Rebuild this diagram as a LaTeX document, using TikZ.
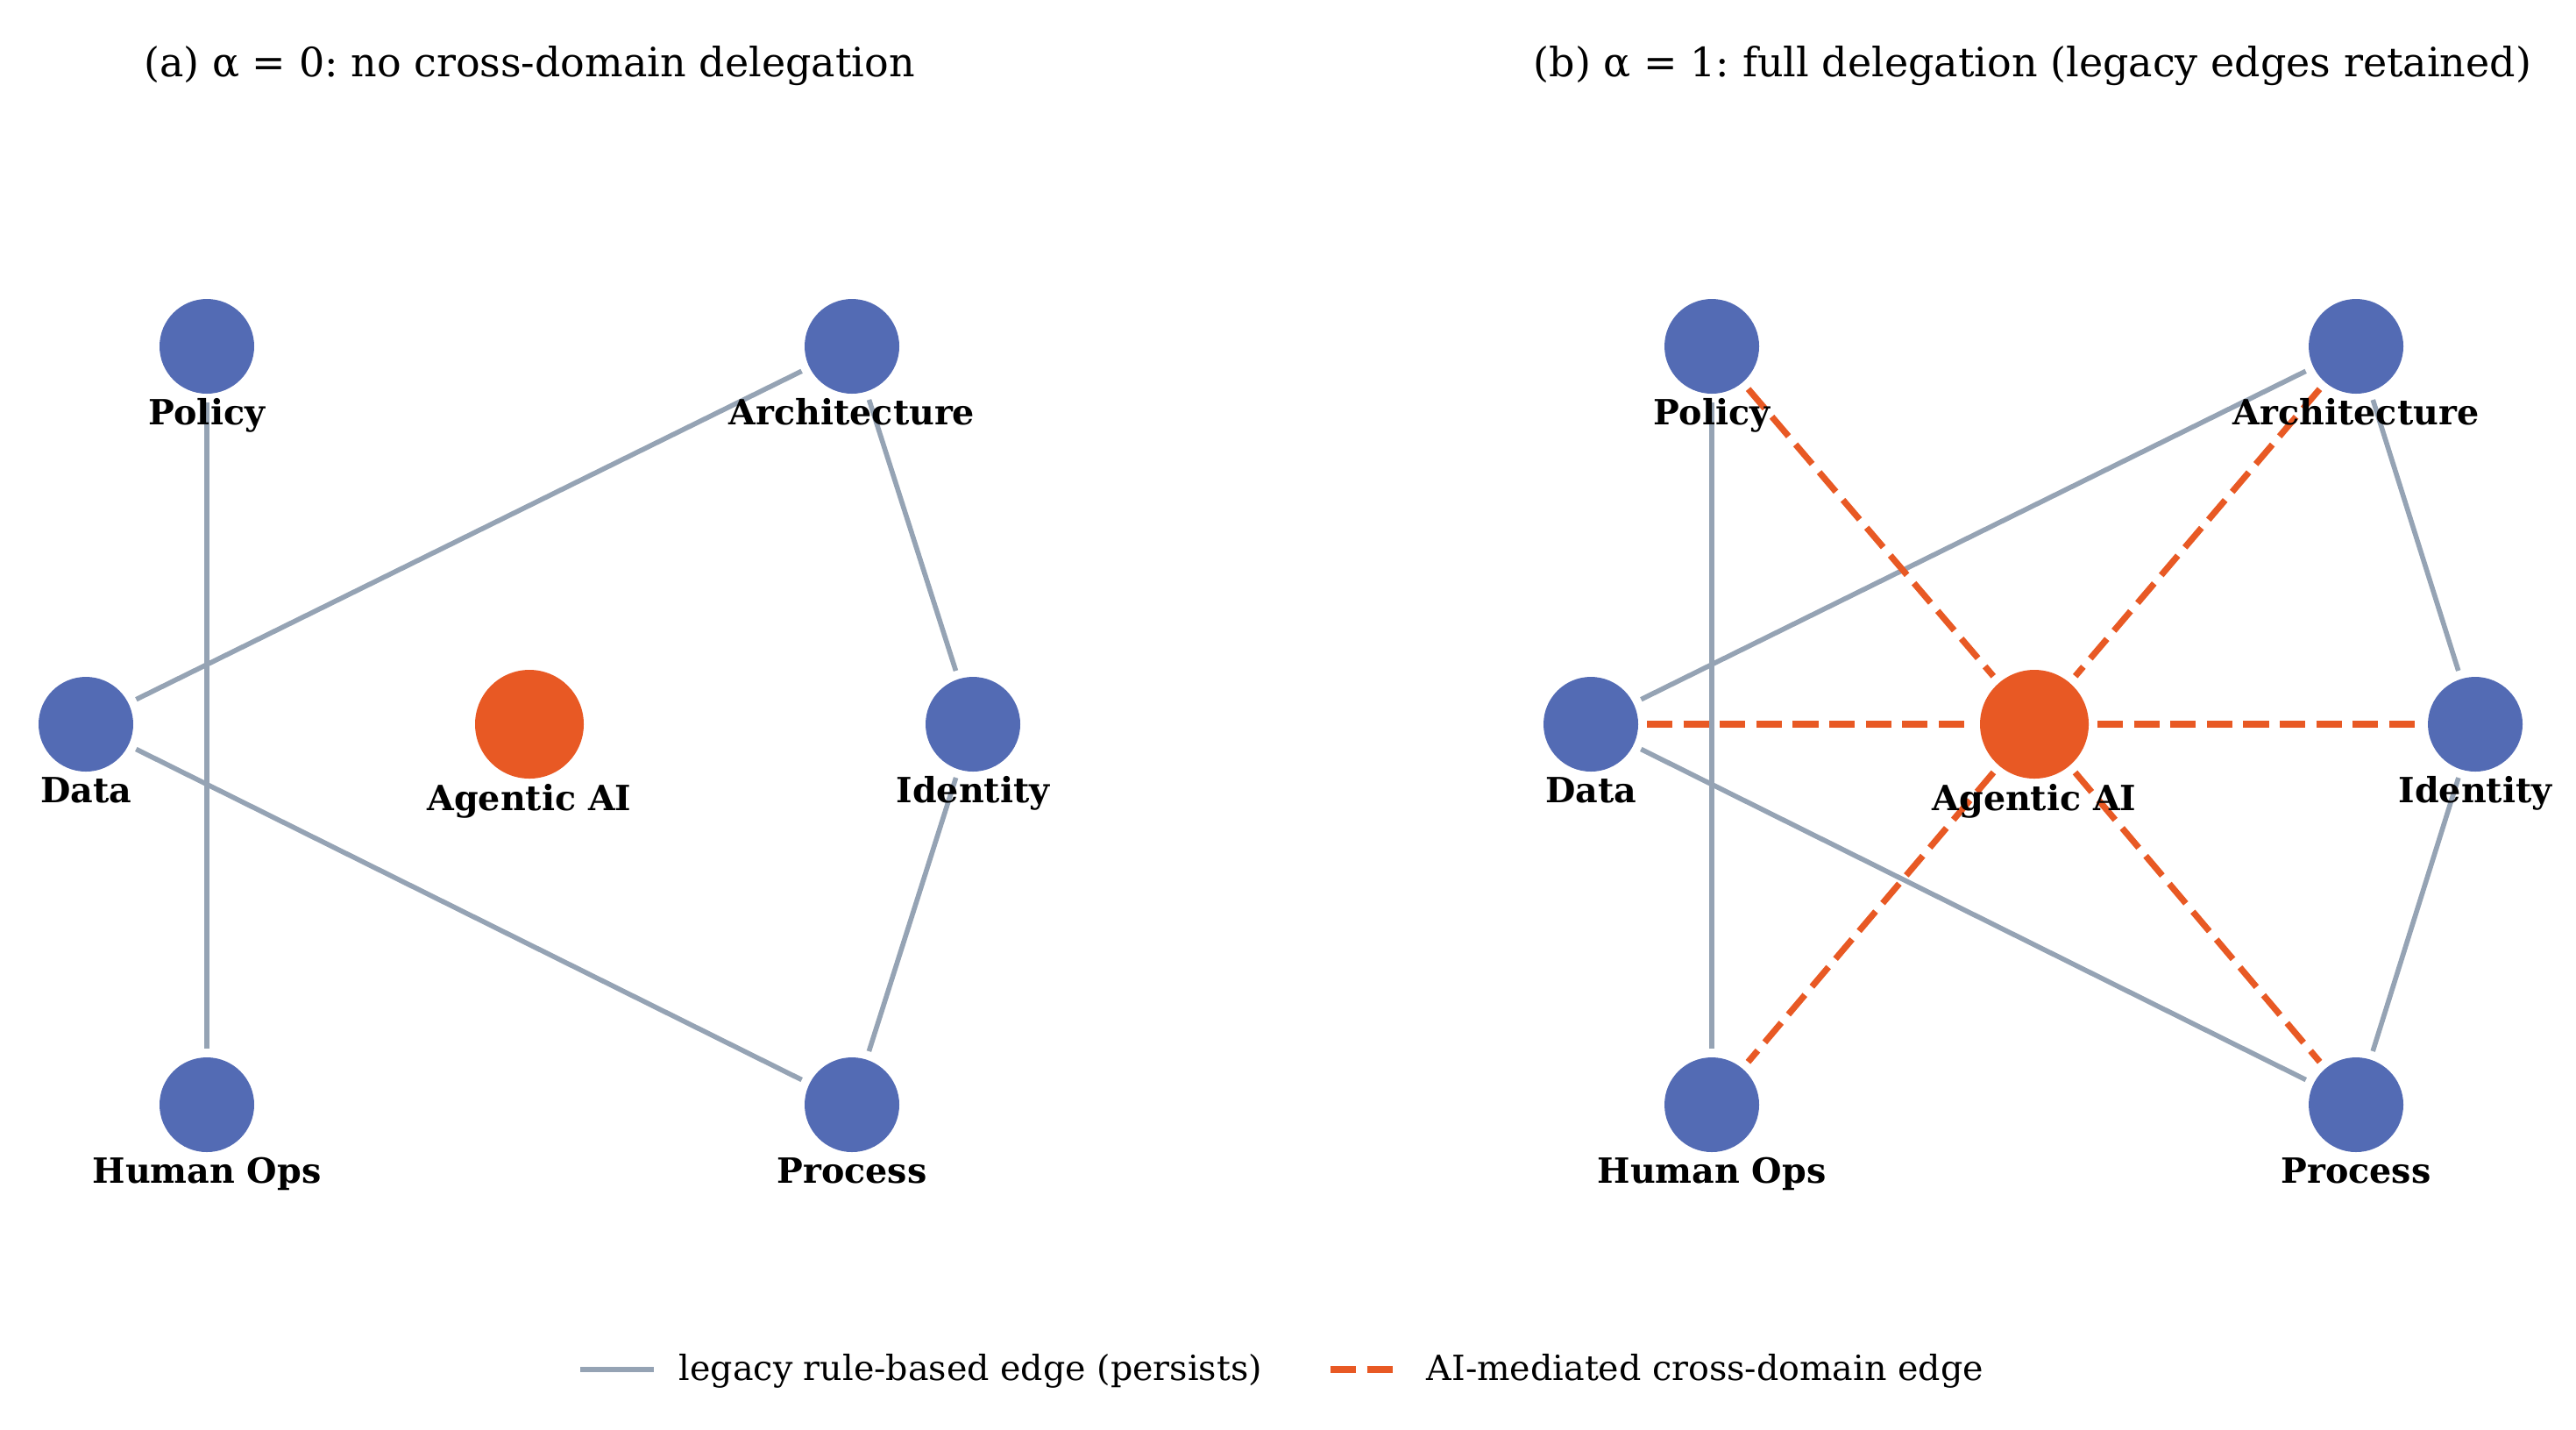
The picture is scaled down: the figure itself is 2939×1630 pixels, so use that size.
\documentclass[tikz,border=0pt]{standalone}
\usepackage{fontspec}
\setmainfont{DejaVu Serif}
\frenchspacing
\definecolor{nblue}{HTML}{536BB4}
\definecolor{norange}{HTML}{E85924}
\definecolor{lgray}{HTML}{95A3B4}
\begin{document}
\begin{tikzpicture}[x={(0.25pt,0)}, y={(0,-0.25pt)},
  dom/.style={circle, fill=nblue, inner sep=0pt, minimum size=27pt, outer sep=2.5pt},
  aihub/.style={circle, fill=norange, inner sep=0pt, minimum size=31pt, outer sep=2.5pt},
  legacy/.style={draw=lgray, line width=1.4pt},
  aiedge/.style={draw=norange, line width=1.8pt, dash pattern=on 7.3pt off 3.1pt},
  lbl/.style={anchor=base, font=\bfseries\fontsize{9.9}{12}\selectfont, inner sep=0pt},
  ttl/.style={anchor=base, font=\fontsize{11.5}{14}\selectfont, inner sep=0pt},
  leg/.style={anchor=base west, font=\fontsize{9.9}{12}\selectfont, inner sep=0pt}]
\useasboundingbox[fill=white] (0,0) rectangle (2939,1630);

% titles
\node[ttl] (ta) at (604,87) {(a) α = 0: no cross-domain delegation};
\node[ttl] (tb) at (2319,87) {(b) α = 1: full delegation (legacy edges retained)};

% ---------- panel a ----------
\node[dom] (pa) at (236,395) {};
\node[dom] (ara) at (972,395) {};
\node[dom] (da) at (98,826) {};
\node[aihub] (xa) at (604,826) {};
\node[dom] (ia) at (1110,826) {};
\node[dom] (ha) at (236,1260) {};
\node[dom] (ra) at (972,1260) {};

\draw[legacy] (pa) -- (ha);
\draw[legacy] (ara) -- (da);
\draw[legacy] (da) -- (ra);
\draw[legacy] (ara) -- (ia);
\draw[legacy] (ia) -- (ra);

\node[lbl] (lpa) at (236,484) {Policy};
\node[lbl] (lara) at (972,484) {Architecture};
\node[lbl] (lda) at (98,915) {Data};
\node[lbl] (lxa) at (604,924) {Agentic AI};
\node[lbl] (lia) at (1110,915) {Identity};
\node[lbl] (lha) at (236,1349) {Human Ops};
\node[lbl] (lra) at (972,1349) {Process};

% ---------- panel b ----------
\node[dom] (pb) at (1953,395) {};
\node[dom] (arb) at (2688,395) {};
\node[dom] (db) at (1815,826) {};
\node[aihub] (xb) at (2321,826) {};
\node[dom] (ib) at (2824,826) {};
\node[dom] (hb) at (1953,1260) {};
\node[dom] (rb) at (2688,1260) {};

\draw[legacy] (pb) -- (hb);
\draw[legacy] (arb) -- (db);
\draw[legacy] (db) -- (rb);
\draw[legacy] (arb) -- (ib);
\draw[legacy] (ib) -- (rb);

\draw[aiedge] (pb) -- (xb);
\draw[aiedge] (arb) -- (xb);
\draw[aiedge] (db) -- (xb);
\draw[aiedge] (xb) -- (ib);
\draw[aiedge] (xb) -- (hb);
\draw[aiedge] (xb) -- (rb);

\node[lbl] (lpb) at (1953,484) {Policy};
\node[lbl] (larb) at (2688,484) {Architecture};
\node[lbl] (ldb) at (1815,915) {Data};
\node[lbl] (lxb) at (2321,924) {Agentic AI};
\node[lbl] (lib) at (2824,915) {Identity};
\node[lbl] (lhb) at (1953,1349) {Human Ops};
\node[lbl] (lrb) at (2688,1349) {Process};

% ---------- legend ----------
\coordinate (g1) at (662,1562);
\coordinate (g2) at (746,1562);
\draw[legacy] (g1) -- (g2);
\node[leg] (lt1) at (774,1574) {legacy rule-based edge (persists)};
\coordinate (o1) at (1518,1562);
\coordinate (o2) at (1589,1562);
\draw[aiedge] (o1) -- (o2);
\node[leg] (lt2) at (1627,1574) {AI-mediated cross-domain edge};
\end{tikzpicture}
\end{document}
